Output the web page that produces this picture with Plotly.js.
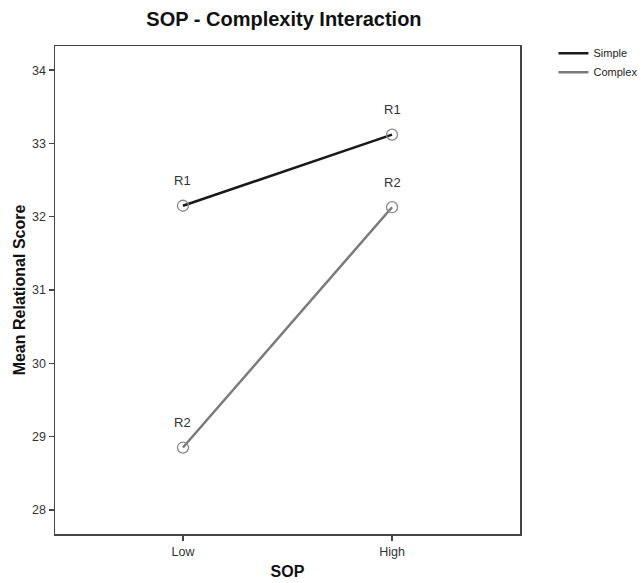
<!DOCTYPE html>
<html>
<head>
<meta charset="utf-8">
<script src="https://cdn.plot.ly/plotly-3.0.1.min.js"></script>
<style>
  html, body { margin: 0; padding: 0; background: #ffffff; }
  #chart { width: 641px; height: 583px; }
</style>
</head>
<body>
<div id="chart"></div>
<script>
const categories = ["Low", "High"];
const seriesNames = ["Simple", "Complex"];
const simpleValues = [32.15, 33.12];
const complexValues = [28.85, 32.13];
const simpleLabels = ["R1", "R1"];
const complexLabels = ["R2", "R2"];
const yTickValues = [28, 29, 30, 31, 32, 33, 34];

const lineColors = ["#1a1a1a", "#7a7a7a"];
const allValues = [simpleValues, complexValues];
const allLabels = [simpleLabels, complexLabels];

const traces = [];
allValues.forEach((vals, i) => {
  traces.push({
    type: "scatter", mode: "lines", name: seriesNames[i],
    x: categories, y: vals,
    line: { color: lineColors[i], width: 2.5 },
    showlegend: true, cliponaxis: false
  });
});
allValues.forEach((vals, i) => {
  traces.push({
    type: "scatter", mode: "markers", name: seriesNames[i],
    x: categories, y: vals,
    marker: { symbol: "circle-open", size: 11, color: "#8a8a8a", line: { width: 1.3, color: "#8a8a8a" } },
    showlegend: false, cliponaxis: false
  });
});

const annotations = [];
allValues.forEach((vals, i) => {
  vals.forEach((v, j) => {
    annotations.push({
      x: categories[j], y: v, xref: "x", yref: "y",
      text: allLabels[i][j], showarrow: false, yshift: 25,
      font: { family: "Liberation Sans, Arial, sans-serif", size: 13, color: "#333333" }
    });
  });
});

const layout = {
  width: 641, height: 583,
  paper_bgcolor: "#ffffff", plot_bgcolor: "#ffffff",
  margin: { l: 55, r: 121, t: 46, b: 49, autoexpand: false },
  title: {
    text: "<b>SOP - Complexity Interaction</b>",
    font: { family: "Liberation Sans, Arial, sans-serif", size: 20, color: "#111111" },
    x: 0.443, xanchor: "center", y: 0.968, yanchor: "middle"
  },
  font: { family: "Liberation Sans, Arial, sans-serif", color: "#333333" },
  xaxis: {
    type: "category",
    range: [-0.612, 1.612],
    showgrid: false, zeroline: false,
    showline: true, mirror: true, linecolor: "#444444", linewidth: 1.5,
    ticks: "outside", ticklen: 5, tickcolor: "#444444", tickwidth: 1.5,
    tickfont: { size: 12.5, color: "#333333" },
    title: { text: "<b>SOP</b>", font: { size: 16, color: "#111111" }, standoff: 8 }
  },
  yaxis: {
    range: [27.67, 34.33],
    tickvals: yTickValues,
    showgrid: false, zeroline: false,
    showline: true, mirror: true, linecolor: "#444444", linewidth: 1.5,
    ticks: "outside", ticklen: 5, tickcolor: "#444444", tickwidth: 1.5,
    tickfont: { size: 12.5, color: "#333333" },
    title: { text: "<b>Mean Relational Score</b>", font: { size: 16, color: "#111111" }, standoff: 2 }
  },
  legend: {
    x: 1.072, xanchor: "left", y: 1.015, yanchor: "top",
    font: { size: 11, color: "#222222" },
    bgcolor: "rgba(0,0,0,0)", tracegroupgap: 0, itemwidth: 30
  },
  annotations: annotations,
  showlegend: true
};

Plotly.newPlot("chart", traces, layout, { displayModeBar: false, staticPlot: true });
</script>
</body>
</html>
